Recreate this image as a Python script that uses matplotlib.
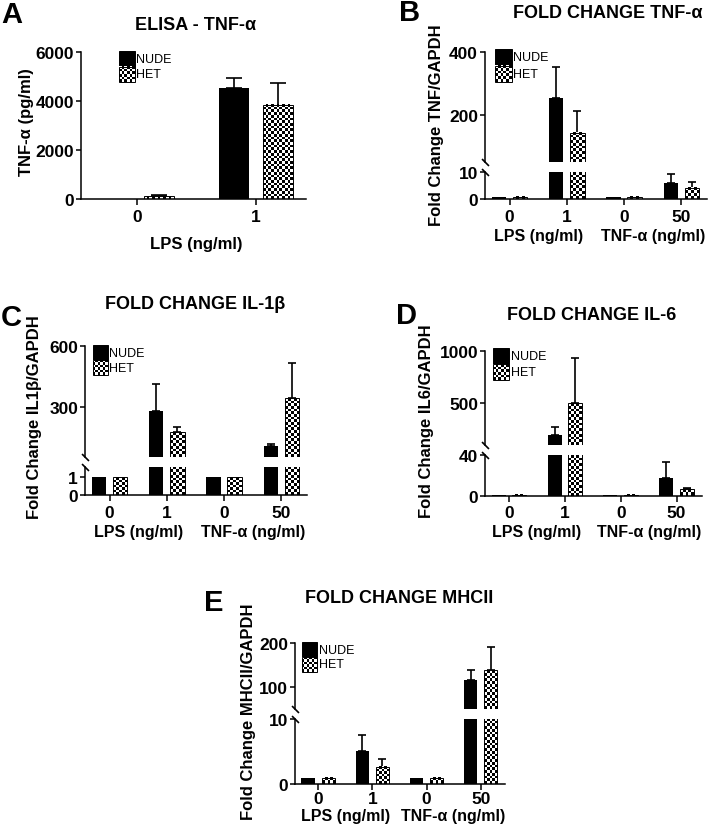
import numpy as np
import matplotlib.pyplot as plt
from matplotlib.patches import Rectangle

plt.rcParams['font.family'] = ['Liberation Sans', 'DejaVu Sans']
plt.rcParams['font.weight'] = 'bold'
plt.rcParams['axes.linewidth'] = 1.1

W, H = 709, 829

# ELISA (panel A)
elisa_groups = ["0", "1"]
elisa_nude = [0, 4550]
elisa_nude_err = [0, 370]
elisa_het = [120, 3850]
elisa_het_err = [25, 880]

# fold change panels, groups: LPS 0, LPS 1, TNF-a 0, TNF-a 50
fold_groups = ["0", "1", "0", "50"]

tnf_nude = [1, 254, 1, 5.9]
tnf_nude_err = [0, 97, 0, 3.4]
tnf_het = [1, 143, 1, 4.3]
tnf_het_err = [0, 71, 0, 2.1]

il1b_nude = [1, 277, 1, 106]
il1b_nude_err = [0, 136, 0, 10]
il1b_het = [1, 174, 1, 342]
il1b_het_err = [0, 27, 0, 175]

il6_nude = [1, 194, 1, 17.7]
il6_nude_err = [0, 74, 0, 15]
il6_het = [1, 500, 1, 6.6]
il6_het_err = [0, 430, 0, 0.5]

mhc_nude = [1, 5.1, 1, 116]
mhc_nude_err = [0, 2.4, 0, 23]
mhc_het = [1, 2.7, 1, 138]
mhc_het_err = [0, 1.1, 0, 52]

series_names = ["NUDE", "HET"]
width = 0.25
off = 0.185

fig = plt.figure(figsize=(W / 100, H / 100), dpi=100)


def box(l, t, r, b):
    return [l / W, 1 - b / H, (r - l) / W, (b - t) / H]


def checker(ax, x0, x1, y0, y1, tr, cell=2.7):
    (px0, py0), (px1, py1) = tr.transform([(x0, y0), (x1, y1)])
    nx = max(1, int(round(abs(px1 - px0) / cell)))
    ny = max(1, int(round(abs(py1 - py0) / cell)))
    grid = np.indices((ny, nx)).sum(axis=0) % 2
    im = ax.imshow(grid, cmap='binary', vmin=0, vmax=1, extent=(x0, x1, y0, y1),
                   aspect='auto', interpolation='nearest', transform=tr, zorder=2)
    return im


def style(ax, ylim, yticks, xlim, bottom=True, xpad=3):
    ax.set_xlim(xlim)
    ax.set_ylim(ylim)
    ax.set_yticks(yticks)
    ax.spines['top'].set_visible(False)
    ax.spines['right'].set_visible(False)
    ax.tick_params(axis='y', length=3.5, width=1.1, labelsize=12.5, pad=1.5)
    ax.tick_params(axis='x', length=4, width=1.1, labelsize=12.5, pad=xpad)
    if not bottom:
        ax.spines['bottom'].set_visible(False)
        ax.tick_params(axis='x', bottom=False, labelbottom=False)


def draw(ax, nude, nude_err, het, het_err, cap):
    lo, hi = ax.get_ylim()
    x = np.arange(len(nude))
    ax.bar(x - off, nude, width, color='black', zorder=2)
    ax.bar(x + off, het, width, facecolor='none', edgecolor='black', linewidth=0.7, zorder=3)
    for xi, v in zip(x + off, het):
        top, bot = min(v, hi), max(0, lo)
        if top > bot:
            checker(ax, xi - width / 2, xi + width / 2, bot, top, ax.transData)
    for xs, vals, errs in ((x - off, nude, nude_err), (x + off, het, het_err)):
        errs = np.array(errs, dtype=float)
        keep = errs > 0
        ax.errorbar(xs[keep], np.array(vals)[keep], yerr=[np.zeros(keep.sum()), errs[keep]],
                    fmt='none', ecolor='black', elinewidth=1.2, capsize=cap, capthick=1.2, zorder=1)


def legend(ax, dx, dy, size):
    bb = ax.get_position()
    aw, ah = bb.width * W, bb.height * H
    x0 = dx / aw
    for i, name in enumerate(series_names):
        y1 = 1 + (-dy - i * size) / ah
        y0 = y1 - size / ah
        x1 = x0 + size / aw
        if i == 0:
            ax.add_patch(Rectangle((x0, y0), x1 - x0, y1 - y0, transform=ax.transAxes,
                                   facecolor='black', edgecolor='black', lw=0.7, clip_on=False))
        else:
            im = checker(ax, x0, x1, y0, y1, ax.transAxes)
            im.set_clip_on(False)
            ax.add_patch(Rectangle((x0, y0), x1 - x0, y1 - y0, transform=ax.transAxes,
                                   facecolor='none', edgecolor='black', lw=0.7, clip_on=False, zorder=3))
        ax.text(x1 + 1.5 / aw, (y0 + y1) / 2, name, transform=ax.transAxes, fontsize=9,
                fontweight='normal', va='center', ha='left')


def group_labels(ax, dy):
    for xc, txt in ((0.5, "LPS (ng/ml)"), (2.5, "TNF-α (ng/ml)")):
        ax.annotate(txt, xy=(xc, 0), xycoords=('data', 'axes fraction'), xytext=(0, -dy),
                    textcoords='offset pixels', ha='center', va='center', fontsize=11.5)


def break_marks(lower, upper):
    for ax, y in ((lower, 1), (upper, 0)):
        ax.plot([0], [y], transform=ax.transAxes, marker=[(-1, 1), (1, -1)], markersize=5,
                mew=1.2, color='black', clip_on=False)


# Panel A
ax = fig.add_axes(box(81, 53, 306, 200))
style(ax, (0, 6000), [0, 2000, 4000, 6000], (-0.47, 1.42))
ax.set_xticks(range(len(elisa_groups)), elisa_groups)
draw(ax, elisa_nude, elisa_nude_err, elisa_het, elisa_het_err, cap=6)
legend(ax, 38, -1, 15.5)
ax.annotate("LPS (ng/ml)", xy=(0.5, 0), xycoords=('data', 'axes fraction'), xytext=(0, -45),
            textcoords='offset pixels', ha='center', va='center', fontsize=12)
ax.set_xlim(-0.47, 1.42)
ax.set_ylim(0, 6000)


def fold_panel(left, right, lower_box, upper_box, lower_lim, lower_ticks, upper_lim, upper_ticks,
               nude, nude_err, het, het_err, leg, label_dy=36, xpad=3):
    xlim = (-0.43, 3.45)
    lo = fig.add_axes(box(left, lower_box[0], right, lower_box[1]))
    up = fig.add_axes(box(left, upper_box[0], right, upper_box[1]))
    style(lo, lower_lim, lower_ticks, xlim, xpad=xpad)
    style(up, upper_lim, upper_ticks, xlim, bottom=False)
    lo.set_xticks(range(len(fold_groups)), fold_groups)
    for a in (lo, up):
        draw(a, nude, nude_err, het, het_err, cap=3)
    legend(up, leg[0], leg[1], leg[2])
    group_labels(lo, label_dy)
    break_marks(lo, up)
    lo.set_xlim(xlim)
    up.set_xlim(xlim)
    lo.set_ylim(lower_lim)
    up.set_ylim(upper_lim)


# Panel B
fold_panel(485, 707, (173.3, 200.3), (53, 163.3), (0, 10), [0, 10], (50, 400), [200, 400],
           tnf_nude, tnf_nude_err, tnf_het, tnf_het_err, (10, -3, 16.5))
# Panel C
fold_panel(85, 307, (467.7, 496), (347.3, 458), (0, 1.6), [0, 1], (50, 600), [300, 600],
           il1b_nude, il1b_nude_err, il1b_het, il1b_het_err, (8, -1, 15))
# Panel D
fold_panel(485, 701.7, (456, 496.7), (351.7, 445.8), (0, 40), [0, 40], (100, 1000), [500, 1000],
           il6_nude, il6_nude_err, il6_het, il6_het_err, (8, -3, 16))
# Panel E
fold_panel(295, 505, (720, 785.3), (644, 709.5), (0, 10), [0, 10], (50, 200), [100, 200],
           mhc_nude, mhc_nude_err, mhc_het, mhc_het_err, (7, -1, 15), label_dy=31, xpad=1)

# titles, panel letters, y labels
titles = ["ELISA - TNF-α", "FOLD CHANGE TNF-α", "FOLD CHANGE IL-1β", "FOLD CHANGE IL-6", "FOLD CHANGE MHCII"]
letters = ["A", "B", "C", "D", "E"]
ylabels = ["TNF-α (pg/ml)", "Fold Change TNF/GAPDH", "Fold Change IL1β/GAPDH",
           "Fold Change IL6/GAPDH", "Fold Change MHCII/GAPDH"]
title_pos = [(196, 25), (608, 13), (195, 305), (592, 315), (399, 599)]
letter_pos = [(12, 15), (410, 13), (11, 318), (406, 316), (214, 603)]
ylabel_pos = [(27, 122), (436, 125), (35, 417), (427, 421), (249, 712)]

for t, (x, y) in zip(titles, title_pos):
    fig.text(x / W, 1 - y / H, t, ha='center', va='center', fontsize=13)
for t, (x, y) in zip(letters, letter_pos):
    fig.text(x / W, 1 - y / H, t, ha='center', va='center', fontsize=21)
for t, (x, y) in zip(ylabels, ylabel_pos):
    fig.text(x / W, 1 - y / H, t, ha='center', va='center', fontsize=12, rotation=90)

fig.savefig("out.png", dpi=100)
